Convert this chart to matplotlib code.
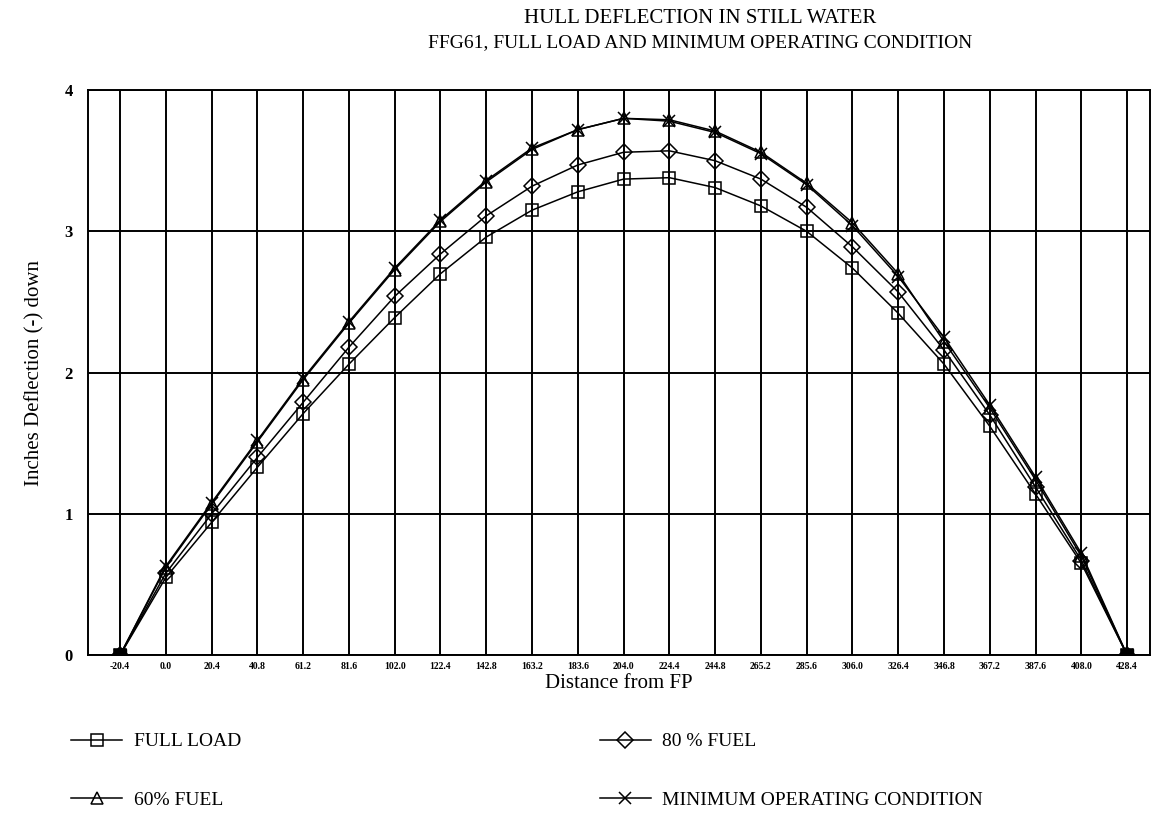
import matplotlib
matplotlib.use('Agg')
from matplotlib import pyplot as plt
from matplotlib.ticker import FixedLocator


"""
Hull deflection in still water, FFG61.
"""

stations = [-20.4, 0.0, 20.4, 40.8, 61.2, 81.6, 102.0, 122.4, 142.8, 163.2, 183.6,
            204.0, 224.4, 244.8, 265.2, 285.6, 306.0, 326.4, 346.8, 367.2, 387.6,
            408.0, 428.4]
tick_labels = ['%.1f' % s for s in stations]

full_load = [0.0, 0.55, 0.94, 1.33, 1.71, 2.06, 2.39, 2.70, 2.96, 3.15, 3.28,
             3.37, 3.38, 3.31, 3.18, 3.00, 2.74, 2.42, 2.06, 1.62, 1.14, 0.65, 0.0]
fuel_80 = [0.0, 0.58, 1.00, 1.40, 1.79, 2.18, 2.54, 2.84, 3.11, 3.32, 3.47,
           3.56, 3.57, 3.50, 3.37, 3.17, 2.89, 2.57, 2.16, 1.70, 1.19, 0.67, 0.0]
fuel_60 = [0.0, 0.62, 1.07, 1.51, 1.95, 2.35, 2.73, 3.07, 3.35, 3.58, 3.72,
           3.80, 3.79, 3.71, 3.56, 3.34, 3.06, 2.70, 2.22, 1.75, 1.24, 0.70, 0.0]
min_op = [0.0, 0.63, 1.08, 1.52, 1.96, 2.36, 2.74, 3.08, 3.36, 3.59, 3.72,
          3.80, 3.78, 3.70, 3.55, 3.33, 3.04, 2.68, 2.25, 1.77, 1.26, 0.72, 0.0]

plt.rcParams['font.family'] = 'Liberation Serif'

fig = plt.figure(figsize=(11.57, 8.19), dpi=100)
ax = fig.add_axes([0.076, 0.200, 0.918, 0.690])

mk = dict(color='black', linewidth=1.1, markersize=9, markerfacecolor='none',
          markeredgecolor='black', markeredgewidth=1.1)
l1, = ax.plot(stations, full_load, marker='s', label='FULL LOAD', **mk)
l3, = ax.plot(stations, fuel_60, marker='^', label='60% FUEL', **mk)
l2, = ax.plot(stations, fuel_80, marker='D', label='80 % FUEL', **dict(mk, markersize=8))
l4, = ax.plot(stations, min_op, marker='x', label='MINIMUM OPERATING CONDITION', **mk)
# end points where all markers pile up look solid black
ax.plot(stations, full_load, linestyle='none', marker='s', markersize=9,
        color='black', markevery=[0, len(stations) - 1], zorder=5)

ax.set_xlim(-34.7, 438.6)
ax.set_ylim(0, 4)
ax.xaxis.set_major_locator(FixedLocator(stations))
ax.set_xticklabels(tick_labels, fontsize=7, fontweight='bold')
ax.tick_params(axis='x', length=0, pad=5)
ax.set_yticks([0, 1, 2, 3, 4])
ax.set_yticklabels(['0', '1', '2', '3', '4'], fontsize=12, fontweight='bold')
ax.tick_params(axis='y', length=0, pad=11)
ax.grid(True, color='black', linewidth=1.4)
for s in ax.spines.values():
    s.set_linewidth(1.4)

ax.set_xlabel('Distance from FP', fontsize=15, labelpad=2)
ax.set_ylabel('Inches Deflection (-) down', fontsize=15, labelpad=14)

fig.text(0.605, 0.978, 'HULL DEFLECTION IN STILL WATER', ha='center', va='center', fontsize=15)
fig.text(0.605, 0.948, 'FFG61, FULL LOAD AND MINIMUM OPERATING CONDITION',
         ha='center', va='center', fontsize=14)

leg_kw = dict(loc='lower left', frameon=False, fontsize=14, handlelength=2.6,
              labelspacing=2.1, handletextpad=0.6, borderaxespad=0)
fig.legend([l1, l3], ['FULL LOAD', '60% FUEL'], bbox_to_anchor=(0.055, 0.003), **leg_kw)
fig.legend([l2, l4], ['80 % FUEL', 'MINIMUM OPERATING CONDITION'],
           bbox_to_anchor=(0.512, 0.003), **leg_kw)

plt.savefig('out.png', dpi=100)
